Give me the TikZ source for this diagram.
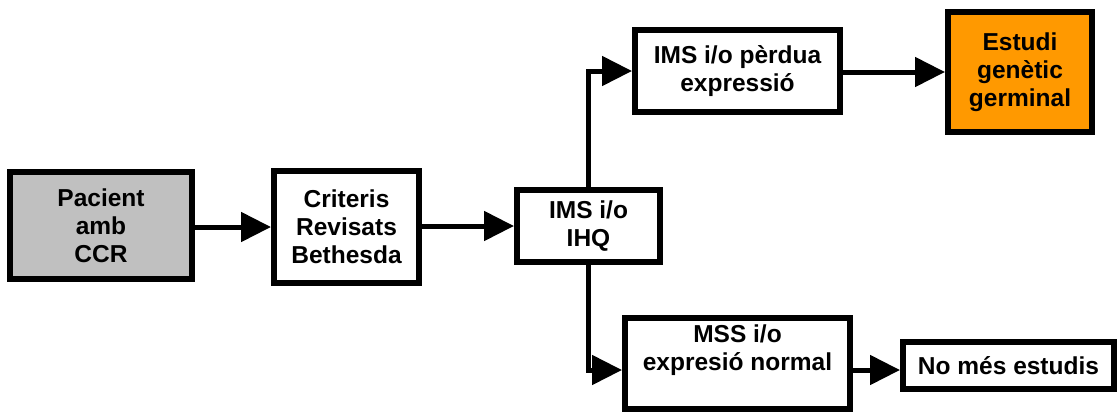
\documentclass[tikz,border=0pt]{standalone}
\usepackage{fontspec}
\setmainfont{Liberation Sans}
\usetikzlibrary{arrows.meta}
\definecolor{boxgray}{RGB}{192,192,192}
\definecolor{boxorange}{RGB}{255,153,0}
\begin{document}
\begin{tikzpicture}[x=1pt,y=-1pt,
  box/.style={draw=black, line width=6pt, rectangle, inner sep=0pt, align=center,
    font=\fontsize{24.5}{28}\selectfont\bfseries, fill=white},
  conn/.style={line width=5pt, -{Triangle[length=30pt,width=29pt]}}]
\useasboundingbox (0,0) rectangle (1119,413);
\node[box, fill=boxgray, minimum width=182pt, minimum height=107pt] (pac) at (101,225.5) {Pacient\\amb\\CCR};
\node[box, minimum width=145pt, minimum height=112pt] (cri) at (346.5,227) {Criteris\\Revisats\\Bethesda};
\node[box, minimum width=143pt, minimum height=72pt] (ihq) at (588.5,226) {IMS i/o\\ IHQ};
\node[box, minimum width=205pt, minimum height=82pt] (per) at (737.5,71) {IMS i/o pèrdua\\expressió};
\node[box, fill=boxorange, minimum width=144pt, minimum height=120pt] (est) at (1020,72) {Estudi\\genètic\\germinal};
\node[box, minimum width=225pt, minimum height=91pt] (mss) at (737.5,363.5) {MSS i/o\\expresió normal\\[4pt]};
\node[box, minimum width=211pt, minimum height=47pt] (nom) at (1008.5,365.5) {No més estudis};
\draw[conn] (pac.east |- cri.west) -- (cri.west);
\draw[conn] (cri.east |- ihq.west) -- (ihq.west);
\draw[conn] (ihq.north) |- (per.west);
\draw[conn] (ihq.south) |- ([yshift=-6.5pt]mss.west);
\draw[conn] (per.east |- est.west) -- (est.west);
\draw[conn] ([yshift=-4.5pt]nom.west -| mss.east) -- ([yshift=-4.5pt]nom.west);
\end{tikzpicture}
\end{document}
